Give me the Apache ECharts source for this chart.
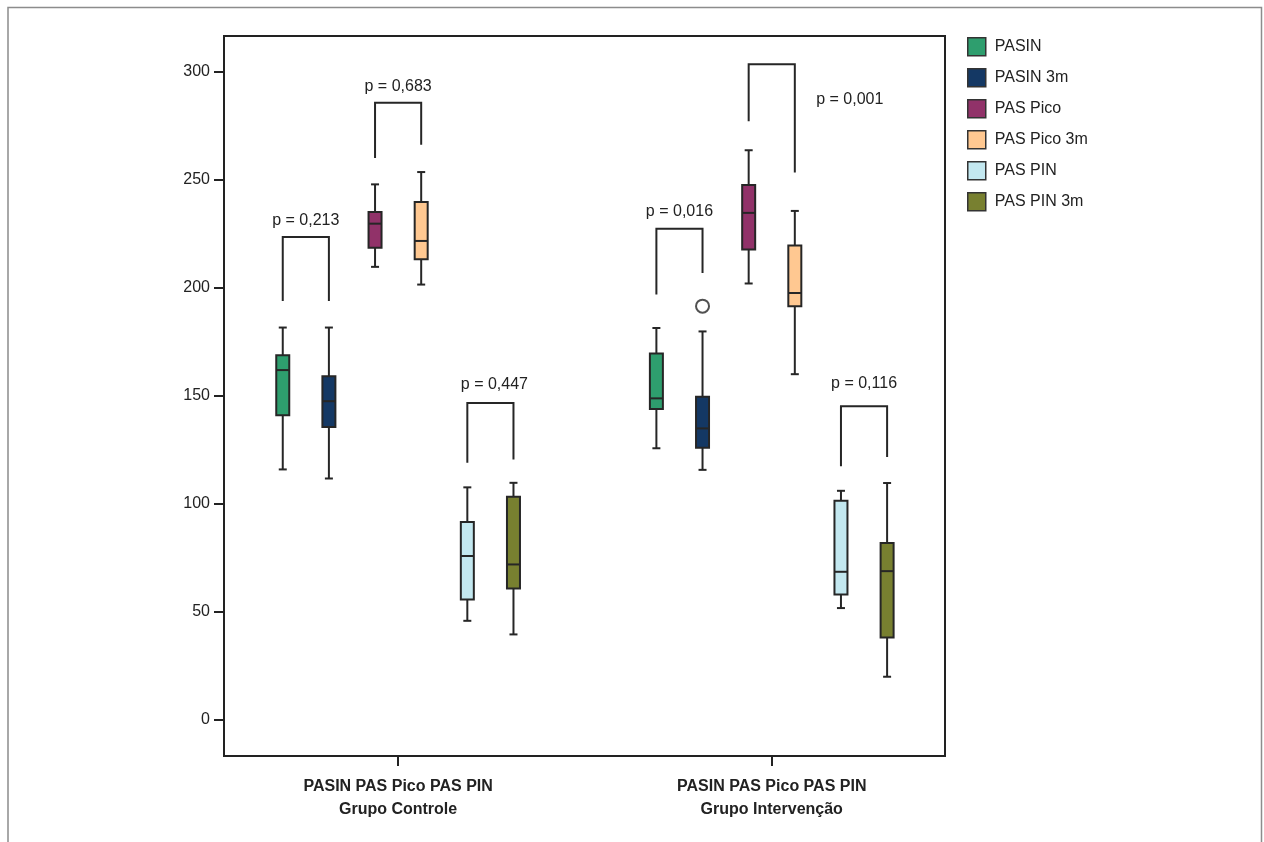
<!DOCTYPE html>
<html>
<head>
<meta charset="utf-8">
<script src="https://cdn.jsdelivr.net/npm/echarts@6/dist/echarts.min.js"></script>
<style>
html,body{margin:0;padding:0;background:#fff;}
#chart{width:1264px;height:842px;}
</style>
</head>
<body>
<div id="chart"></div>
<script>
// ---------- DATA ----------
const groupLabels = ['PASIN PAS Pico PAS PIN\nGrupo Controle', 'PASIN PAS Pico PAS PIN\nGrupo Intervenção'];
const seriesNames = ['PASIN', 'PASIN 3m', 'PAS Pico', 'PAS Pico 3m', 'PAS PIN', 'PAS PIN 3m'];
const yTicks = [0, 50, 100, 150, 200, 250, 300];
// [min, Q1, median, Q3, max] for [Grupo Controle, Grupo Intervenção]
const pasin      = [[115.8, 140.9, 161.8, 168.7, 181.5], [125.6, 143.8, 148.7, 169.5, 181.3]];
const pasin3m    = [[111.6, 135.5, 147.4, 159.0, 181.5], [115.6, 125.8, 134.8, 149.4, 179.7]];
const pasPico    = [[209.6, 218.4, 229.6, 235.0, 247.8], [201.9, 217.6, 234.6, 247.5, 263.6]];
const pasPico3m  = [[201.4, 213.1, 221.6, 239.6, 253.5], [159.9, 191.4, 197.5, 219.5, 235.5]];
const pasPin     = [[45.7, 55.6, 75.7, 91.5, 107.5], [51.6, 57.9, 68.4, 101.3, 105.9]];
const pasPin3m   = [[39.4, 60.7, 71.8, 103.1, 109.6], [19.8, 38.0, 68.7, 81.7, 109.5]];
// outliers: [groupIndex, seriesIndex, value]
const outliers = [[1, 1, 191.4]];
// brackets: [groupIndex, seriesA, seriesB, topValue, legAEnd, legBEnd, labelValue]
const brackets = [
  [0, 0, 1, 223.4, 193.8, 193.8, 231.2],
  [0, 2, 3, 285.6, 260.0, 266.2, 293.2],
  [0, 4, 5, 146.6, 118.9, 120.4, 155.3],
  [1, 0, 1, 227.3, 196.8, 206.8, 235.0],
  [1, 2, 3, 303.4, 277.0, 253.3, 287.0],
  [1, 4, 5, 145.1, 117.3, 121.6, 155.6]
];
const bracketLabels = ['p = 0,213', 'p = 0,683', 'p = 0,447', 'p = 0,016', 'p = 0,001', 'p = 0,116'];

// ---------- STYLE / LAYOUT ----------
const allStats = [pasin, pasin3m, pasPico, pasPico3m, pasPin, pasPin3m];
const colors = ['#2e9e6e', '#143864', '#913269', '#ffc891', '#c3e8f0', '#788030'];
const bracketLabelDx = [0, 0, 4, 0, 78, 0];
const groupPos = [1, 2];
const seriesStep = 0.1235;
const offsetOf = i => (i - 2.5) * seriesStep;
const ink = '#262626';
const FONT = '"Liberation Sans", Arial, sans-serif';

const chart = echarts.init(document.getElementById('chart'), null, {renderer: 'canvas'});

function boxRenderer(sIdx) {
  return function (params, api) {
    const gx = api.value(0) + offsetOf(sIdx);
    const vals = [1, 2, 3, 4, 5].map(k => api.value(k));
    const px = api.coord([gx, vals[2]])[0];
    const Y = v => api.coord([gx, v])[1];
    const hw = 6.5, cw = 4;
    const lineStyle = {stroke: ink, lineWidth: 2, fill: null};
    return {
      type: 'group',
      children: [
        {type: 'line', shape: {x1: px, y1: Y(vals[4]), x2: px, y2: Y(vals[3])}, style: lineStyle},
        {type: 'line', shape: {x1: px, y1: Y(vals[1]), x2: px, y2: Y(vals[0])}, style: lineStyle},
        {type: 'line', shape: {x1: px - cw, y1: Y(vals[4]), x2: px + cw, y2: Y(vals[4])}, style: lineStyle},
        {type: 'line', shape: {x1: px - cw, y1: Y(vals[0]), x2: px + cw, y2: Y(vals[0])}, style: lineStyle},
        {type: 'rect', shape: {x: px - hw, y: Y(vals[3]), width: hw * 2, height: Y(vals[1]) - Y(vals[3])},
          style: {fill: colors[sIdx], stroke: ink, lineWidth: 2}},
        {type: 'line', shape: {x1: px - hw, y1: Y(vals[2]), x2: px + hw, y2: Y(vals[2])}, style: lineStyle}
      ]
    };
  };
}

const boxSeries = seriesNames.map((name, i) => ({
  name: name,
  type: 'custom',
  itemStyle: {color: colors[i]},
  encode: {x: 0, y: [1, 2, 3, 4, 5]},
  data: allStats[i].map((st, g) => [groupPos[g]].concat(st)),
  renderItem: boxRenderer(i),
  silent: true,
  z: 3
}));

const outlierSeries = {
  name: 'outliers',
  type: 'scatter',
  symbol: 'circle',
  symbolSize: 13,
  itemStyle: {color: '#fff', borderColor: ink, borderWidth: 2},
  data: outliers.map(o => [groupPos[o[0]] + offsetOf(o[1]), o[2]]),
  z: 4,
  silent: true
};

const bracketSeries = {
  name: 'brackets',
  type: 'custom',
  encode: {x: 0, y: [3, 4, 5, 6]},
  data: brackets.map(b => [groupPos[b[0]], b[1], b[2], b[3], b[4], b[5], b[6]]),
  silent: true,
  z: 2,
  renderItem: function (params, api) {
    const g = api.value(0);
    const a = api.value(1), b = api.value(2);
    const top = api.value(3), la = api.value(4), lb = api.value(5), lv = api.value(6);
    const pa = api.coord([g + offsetOf(a), top]);
    const pb = api.coord([g + offsetOf(b), top]);
    const ya = api.coord([g, la])[1], yb = api.coord([g, lb])[1];
    const ly = api.coord([g, lv])[1];
    const cx = (pa[0] + pb[0]) / 2 + bracketLabelDx[params.dataIndex];
    return {
      type: 'group',
      children: [
        {type: 'polyline', shape: {points: [[pa[0], ya], [pa[0], pa[1]], [pb[0], pb[1]], [pb[0], yb]]},
          style: {stroke: ink, lineWidth: 2, fill: null}},
        {type: 'text', x: cx, y: ly,
          style: {text: bracketLabels[params.dataIndex], fill: '#222', font: '16px ' + FONT,
            align: 'center', verticalAlign: 'middle'}}
      ]
    };
  }
};

const option = {
  animation: false,
  backgroundColor: '#fff',
  textStyle: {fontFamily: FONT},
  graphic: [{
    type: 'rect', silent: true,
    shape: {x: 8, y: 7.5, width: 1253.5, height: 900},
    style: {fill: null, stroke: '#8c8c8c', lineWidth: 1.5}
  }],
  grid: {left: 224, top: 36, width: 721, height: 720, show: true, borderColor: '#222', borderWidth: 2,
    backgroundColor: 'transparent'},
  legend: {
    data: seriesNames,
    orient: 'vertical',
    left: 967, top: 37,
    padding: 0,
    itemWidth: 18, itemHeight: 18, itemGap: 11.5,
    icon: 'rect',
    selectedMode: false,
    itemStyle: {borderColor: '#333', borderWidth: 1.5},
    textStyle: {fontSize: 16, color: '#222', fontFamily: FONT, padding: [0, 0, 0, 4]}
  },
  xAxis: {
    type: 'value',
    min: 0.534, max: 2.4637,
    splitLine: {show: false},
    axisLine: {show: false, onZero: false},
    axisTick: {show: true, customValues: groupPos, length: 10, lineStyle: {color: '#222', width: 2}},
    axisLabel: {
      customValues: groupPos,
      formatter: v => groupLabels[Math.round(v) - 1],
      fontSize: 16, fontWeight: 'bold', color: '#222', lineHeight: 23, margin: 19, fontFamily: FONT
    }
  },
  yAxis: {
    type: 'value',
    min: -16.9, max: 316.5,
    splitLine: {show: false},
    axisLine: {show: false, onZero: false},
    axisTick: {show: true, customValues: yTicks, length: 10, lineStyle: {color: '#222', width: 2}},
    axisLabel: {customValues: yTicks, fontSize: 16, color: '#222', margin: 14, fontFamily: FONT}
  },
  series: boxSeries.concat([outlierSeries, bracketSeries])
};
chart.setOption(option);
</script>
</body>
</html>
